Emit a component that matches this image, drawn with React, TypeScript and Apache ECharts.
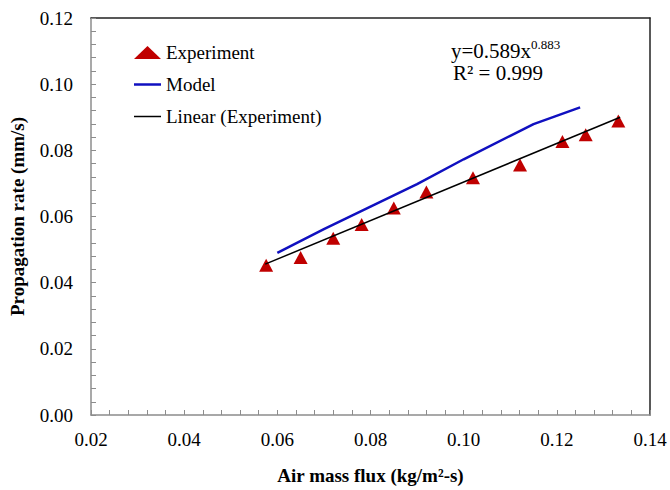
import React, { useEffect, useRef } from "react";
import * as echarts from "echarts";

const expX = [0.0576, 0.065, 0.072, 0.0781, 0.085, 0.092, 0.102, 0.1121, 0.1212, 0.1262, 0.1332];
const expY = [0.0453, 0.0476, 0.0534, 0.0576, 0.0626, 0.0674, 0.0717, 0.0756, 0.0827, 0.0847, 0.0889];
const modelX = [0.06, 0.07, 0.08, 0.09, 0.1, 0.11, 0.115, 0.125];
const modelY = [0.049, 0.0562, 0.063, 0.0698, 0.0773, 0.0844, 0.0879, 0.093];
const linX = [0.0574, 0.1336];
const linY = [0.0456, 0.09];
const equationMain = "y=0.589x";
const equationExp = "0.883";
const rSquared = "R² = 0.999";

const FONT = "Liberation Serif";

export default function App() {
  const ref = useRef<HTMLDivElement>(null);
  useEffect(() => {
    if (!ref.current) return;
    const chart = echarts.init(ref.current, undefined, { renderer: "svg" });
    const tickColor = "#8c8c8c";
    const axisLabel = {
      fontFamily: FONT,
      fontSize: 19,
      color: "#000",
      formatter: (v: number) => v.toFixed(2),
    };
    chart.setOption({
      animation: false,
      backgroundColor: "#fff",
      grid: { left: 91, right: 20, top: 18, bottom: 72 },
      legend: {
        orient: "vertical",
        left: 129,
        top: 38,
        itemWidth: 27,
        itemHeight: 13,
        itemGap: 13,
        textStyle: { fontFamily: FONT, fontSize: 19, color: "#000" },
        data: [
          { name: "Experiment" },
          { name: "Model", icon: "path://M0,0H27V2.5H0Z" },
          { name: "Linear (Experiment)", icon: "path://M0,0H27V1.5H0Z" },
        ],
      },
      xAxis: [
        {
          type: "value",
          min: 0.02,
          max: 0.14,
          interval: 0.02,
          axisLine: { show: true, onZero: false, lineStyle: { color: tickColor, width: 1.5 } },
          axisTick: { show: true, inside: true, length: 5, lineStyle: { color: tickColor } },
          minorTick: { show: true, splitNumber: 5, length: 5, lineStyle: { color: tickColor } },
          splitLine: { show: false },
          axisLabel: { ...axisLabel, margin: 15 },
          name: "Air mass flux (kg/m²-s)",
          nameLocation: "middle",
          nameGap: 51,
          nameTextStyle: { fontFamily: FONT, fontSize: 19, fontWeight: "bold", color: "#000" },
        },
        {
          type: "value",
          position: "top",
          min: 0.02,
          max: 0.14,
          interval: 0.02,
          axisLine: { show: true, onZero: false, lineStyle: { color: "#222", width: 1.5 } },
          axisTick: { show: false },
          axisLabel: { show: false },
          splitLine: { show: false },
        },
      ],
      yAxis: [
        {
          type: "value",
          min: 0,
          max: 0.12,
          interval: 0.02,
          axisLine: { show: true, onZero: false, lineStyle: { color: tickColor, width: 1.5 } },
          axisTick: { show: true, inside: true, length: 5, lineStyle: { color: tickColor } },
          minorTick: { show: true, splitNumber: 5, length: 5, lineStyle: { color: tickColor } },
          splitLine: { show: false },
          axisLabel: { ...axisLabel, margin: 18 },
          name: "Propagation rate (mm/s)",
          nameLocation: "middle",
          nameGap: 64,
          nameTextStyle: { fontFamily: FONT, fontSize: 19, fontWeight: "bold", color: "#000" },
        },
        {
          type: "value",
          position: "right",
          min: 0,
          max: 0.12,
          interval: 0.02,
          axisLine: { show: true, onZero: false, lineStyle: { color: "#222", width: 1.5 } },
          axisTick: { show: false },
          axisLabel: { show: false },
          splitLine: { show: false },
        },
      ],
      series: [
        {
          name: "Model",
          type: "line",
          data: modelX.map((x, i) => [x, modelY[i]]),
          symbol: "none",
          lineStyle: { color: "#1010C0", width: 2.5 },
          itemStyle: { color: "#1010C0" },
          z: 2,
        },
        {
          name: "Linear (Experiment)",
          type: "line",
          data: linX.map((x, i) => [x, linY[i]]),
          symbol: "none",
          lineStyle: { color: "#000", width: 1.5 },
          itemStyle: { color: "#000" },
          z: 4,
        },
        {
          name: "Experiment",
          type: "scatter",
          data: expX.map((x, i) => [x, expY[i]]),
          symbol: "triangle",
          symbolSize: [14, 13],
          itemStyle: { color: "#C00000", opacity: 1 },
          z: 3,
        },
      ],
      graphic: [
        {
          type: "text",
          left: 451,
          top: 40,
          style: { text: equationMain, fontFamily: FONT, fontSize: 21, fill: "#000" },
        },
        {
          type: "text",
          left: 531,
          top: 38,
          style: { text: equationExp, fontFamily: FONT, fontSize: 13, fill: "#000" },
        },
        {
          type: "text",
          left: 453,
          top: 62,
          style: { text: rSquared, fontFamily: FONT, fontSize: 21, fill: "#000" },
        },
      ],
    });
    return () => chart.dispose();
  }, []);
  return (
    <div
      ref={ref}
      style={{ position: "absolute", left: 0, top: 0, width: 670, height: 490 }}
    />
  );
}
